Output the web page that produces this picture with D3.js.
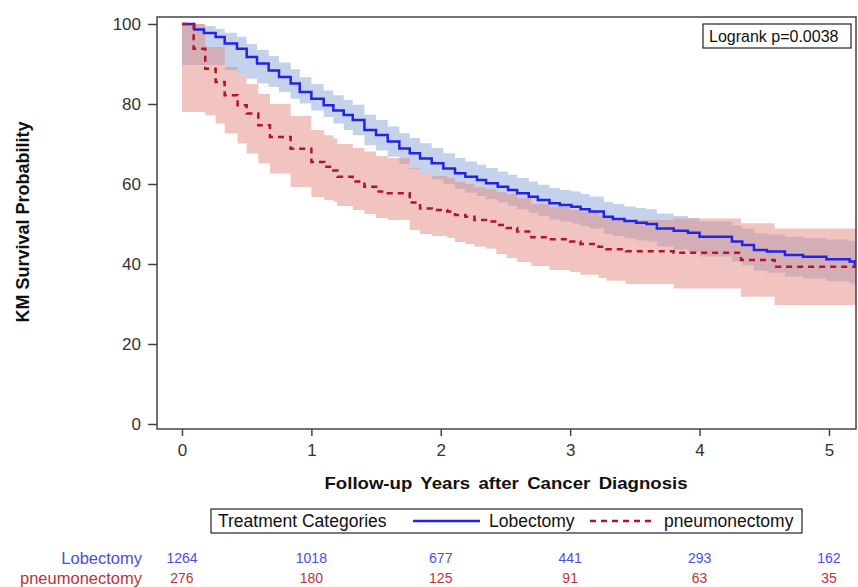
<!DOCTYPE html>
<html><head><meta charset="utf-8">
<script src="https://cdn.jsdelivr.net/npm/d3@7/dist/d3.min.js"></script>
<style>body{margin:0;background:#fff}svg{display:block}text{font-family:"Liberation Sans",Arial,sans-serif}</style>
</head><body>
<svg id="c" width="858" height="587"></svg>
<script>
// ---- data ----
const xTicks = [0, 1, 2, 3, 4, 5];
const yTicks = [0, 20, 40, 60, 80, 100];
const groups = ["Lobectomy", "pneumonectomy"];
const atRiskLob = [1264, 1018, 677, 441, 293, 162];
const atRiskPne = [276, 180, 125, 91, 63, 35];
const logrankText = "Logrank p=0.0038";

const lobTime = [0,0.095,0.17,0.26,0.33,0.425,0.50,0.58,0.67,0.75,0.84,0.91,1.0,1.095,1.17,1.25,1.32,1.41,1.50,1.59,1.68,1.76,1.84,1.93,2.02,2.11,2.19,2.28,2.35,2.44,2.52,2.59,2.68,2.75,2.84,2.92,3.01,3.08,3.15,3.26,3.33,3.42,3.51,3.59,3.67,3.80,3.91,4.0,4.25,4.33,4.42,4.52,4.66,4.80,4.98,5.16,5.20];
const lobSurv = [100,98.6,97.75,96.75,95.1,93.8,91.75,90.1,88.4,86.75,85.1,83,81.3,79.7,78.4,77.25,76,73.5,72.25,70.6,68.9,67.7,66.4,65.2,63.9,62.7,61.8,61,60.2,59.3,58.5,57.7,56.8,56,55.2,54.75,54.3,53.7,53.1,51.8,51.25,50.75,50.3,50,48.9,48.3,47.8,46.8,45.6,44.75,43.5,43.1,42.25,41.8,41.2,40.6,39.75];
const lobLower = [89.75,89.75,89.75,89.75,88.5,87.2,86.3,85.1,84.25,83,81.3,80.1,78.4,76.75,75.1,73.5,72.2,69.7,68.4,66.8,65,63.8,62.5,61.2,60,58.8,57.8,57,56.2,55.4,54.5,53.7,52.8,52,51.1,50.6,50.1,49.5,48.9,47.5,47,46.4,45.9,45.6,44.4,43.6,43,41.9,40.6,39.7,38.3,37.8,36.9,36.4,35.7,35.1,34.75];
const lobUpper = [100,100,99.5,98.8,97.8,96.8,95,93.5,92,90.4,88.7,86.7,85,83.4,82.2,81,79.8,77.3,76,74.4,72.7,71.5,70.2,69,67.7,66.5,65.6,64.8,64,63.1,62.3,61.5,60.6,59.8,59,58.5,58.1,57.5,56.9,55.5,55,54.4,54,53.7,52.6,52,51.5,50.6,49.6,48.8,47.7,47.4,46.8,46.5,46.1,45.8,45.6];

const pneTime = [0,0.09,0.18,0.26,0.33,0.43,0.50,0.59,0.68,0.84,1.0,1.10,1.17,1.20,1.32,1.41,1.50,1.59,1.76,1.84,1.93,2.05,2.11,2.19,2.26,2.35,2.43,2.51,2.59,2.70,2.84,3.0,3.08,3.22,3.28,3.43,3.80,4.32,4.58];
const pneSurv = [100,93.8,88.8,85.5,82.2,79.7,77.6,74.7,71.75,68.8,65.5,64.3,63.4,61.8,60.6,59.3,58.1,57.7,55.4,53.9,53.5,53.1,52.25,51.8,51,50.6,49.75,49.0,48.1,46.7,46.2,45.6,45,44.3,43.7,43.2,42.8,41,39.3];
const pneLower = [78,78,77.2,75.1,72.6,70.1,67.6,65.1,62.6,59.25,56.75,56,55.6,54.5,53.5,52.5,51.5,51,48.5,47.5,47,46.5,45.5,45,44.3,43.8,42.5,41.5,40.5,39.5,38.5,38,37.3,36.5,35.8,35,33.9,31.8,29.75];
const pneUpper = [100,100,94.25,94.25,89.25,87.2,85,82.5,80,77,73.5,72.2,71.4,70,69,68.1,67,66.5,64,62.5,62,61.5,60.5,60,59.2,58.8,58,57.5,56.5,55,54.3,53.5,53,52.2,51.5,51,51.4,50.2,48.9];

// ---- layout ----
const L = 157, R = 856, T = 17, B = 429;
const xMax = 5.209;
const x = d3.scaleLinear().domain([-0.193, xMax]).range([L, R]);
const y = d3.scaleLinear().domain([-1.25, 101.75]).range([B, T]);
const svg = d3.select("#c");
const blue = "#2323e6", red = "#b5122b";
const blueTxt = "#4b4bea", redTxt = "#c0303c";

svg.append("defs").append("clipPath").attr("id","clip")
  .append("rect").attr("x",L).attr("y",T).attr("width",R-L).attr("height",B-T);

function pts(t, v) {
  const a = t.map((d,i)=>({t:d, v:v[i]}));
  a.push({t:xMax, v:v[v.length-1]});
  return a;
}
function bandPts(t, lo, hi) {
  const a = t.map((d,i)=>({t:d, lo:lo[i], hi:hi[i]}));
  a.push({t:xMax, lo:lo[lo.length-1], hi:hi[hi.length-1]});
  return a;
}
const area = d3.area().curve(d3.curveStepAfter).x(d=>x(d.t)).y0(d=>y(d.lo)).y1(d=>y(d.hi));
const line = d3.line().curve(d3.curveStepAfter).x(d=>x(d.t)).y(d=>y(d.v));

const g = svg.append("g").attr("clip-path","url(#clip)");
g.append("path").datum(bandPts(lobTime, lobLower, lobUpper)).attr("d", area).attr("fill","rgb(196,211,235)");
g.append("path").datum(bandPts(pneTime, pneLower, pneUpper)).attr("d", area).attr("fill","rgb(228,138,130)").attr("fill-opacity",0.5);
g.append("path").datum(pts(lobTime, lobSurv)).attr("d", line).attr("fill","none").attr("stroke",blue).attr("stroke-width",2.5);
g.append("path").datum(pts(pneTime, pneSurv)).attr("d", line).attr("fill","none").attr("stroke",red).attr("stroke-width",2.5).attr("stroke-dasharray","6,5");

// frame
svg.append("rect").attr("x",L).attr("y",T).attr("width",R-L).attr("height",B-T)
  .attr("fill","none").attr("stroke","#444").attr("stroke-width",1.5);

// axes
const xa = svg.append("g").attr("transform",`translate(0,${B})`)
  .call(d3.axisBottom(x).tickValues(xTicks).tickFormat(d3.format("d")).tickSize(7).tickSizeOuter(0).tickPadding(8));
const ya = svg.append("g").attr("transform",`translate(${L},0)`)
  .call(d3.axisLeft(y).tickValues(yTicks).tickFormat(d3.format("d")).tickSize(9).tickSizeOuter(0).tickPadding(7));
[xa, ya].forEach(a => {
  a.select(".domain").remove();
  a.selectAll(".tick line").attr("stroke","#444").attr("stroke-width",1.5);
  a.selectAll(".tick text").attr("fill","#333").style("font-size","17px").style("font-family","'Liberation Sans',Arial,sans-serif");
});

// titles
svg.append("text").attr("x",506).attr("y",489).attr("text-anchor","middle")
  .style("font-size","17px").style("font-weight","bold").style("word-spacing","3px").attr("fill","#111")
  .attr("textLength",363).attr("lengthAdjust","spacingAndGlyphs")
  .text("Follow-up Years after Cancer Diagnosis");
svg.append("text").attr("transform","translate(29,222) rotate(-90)").attr("text-anchor","middle")
  .style("font-size","18px").style("font-weight","bold").attr("fill","#111")
  .text("KM Survival Probability");

// logrank box
svg.append("rect").attr("x",703).attr("y",24).attr("width",148).attr("height",24)
  .attr("fill","#fff").attr("stroke","#222").attr("stroke-width",1.2);
svg.append("text").attr("x",709).attr("y",42).style("font-size","16px").attr("fill","#111").text(logrankText);

// legend
svg.append("rect").attr("x",211).attr("y",509).attr("width",591).attr("height",24)
  .attr("fill","#fff").attr("stroke","#222").attr("stroke-width",1.2);
svg.append("text").attr("x",218).attr("y",527).style("font-size","17.5px").attr("fill","#111").text("Treatment Categories");
svg.append("line").attr("x1",413).attr("x2",480).attr("y1",521).attr("y2",521).attr("stroke",blue).attr("stroke-width",2.5);
svg.append("text").attr("x",489).attr("y",527).style("font-size","17.5px").attr("fill","#111").text(groups[0]);
svg.append("line").attr("x1",590).attr("x2",652).attr("y1",521).attr("y2",521).attr("stroke",red).attr("stroke-width",2.5).attr("stroke-dasharray","6,5");
svg.append("text").attr("x",664).attr("y",527).style("font-size","17.5px").attr("fill","#111").text(groups[1]);

// at-risk table
const rows = [{name:groups[0], vals:atRiskLob, col:blueTxt, yy:564},{name:groups[1], vals:atRiskPne, col:redTxt, yy:584}];
rows.forEach(r => {
  svg.append("text").attr("x",142).attr("y",r.yy).attr("text-anchor","end")
    .style("font-size","16.5px").attr("fill",r.col).text(r.name);
  svg.selectAll(null).data(r.vals).enter().append("text")
    .attr("x",(d,i)=>x(xTicks[i])).attr("y",r.yy - 1).attr("text-anchor","middle")
    .style("font-size","14px").attr("fill",r.col).text(d=>d);
});
</script>
</body></html>
